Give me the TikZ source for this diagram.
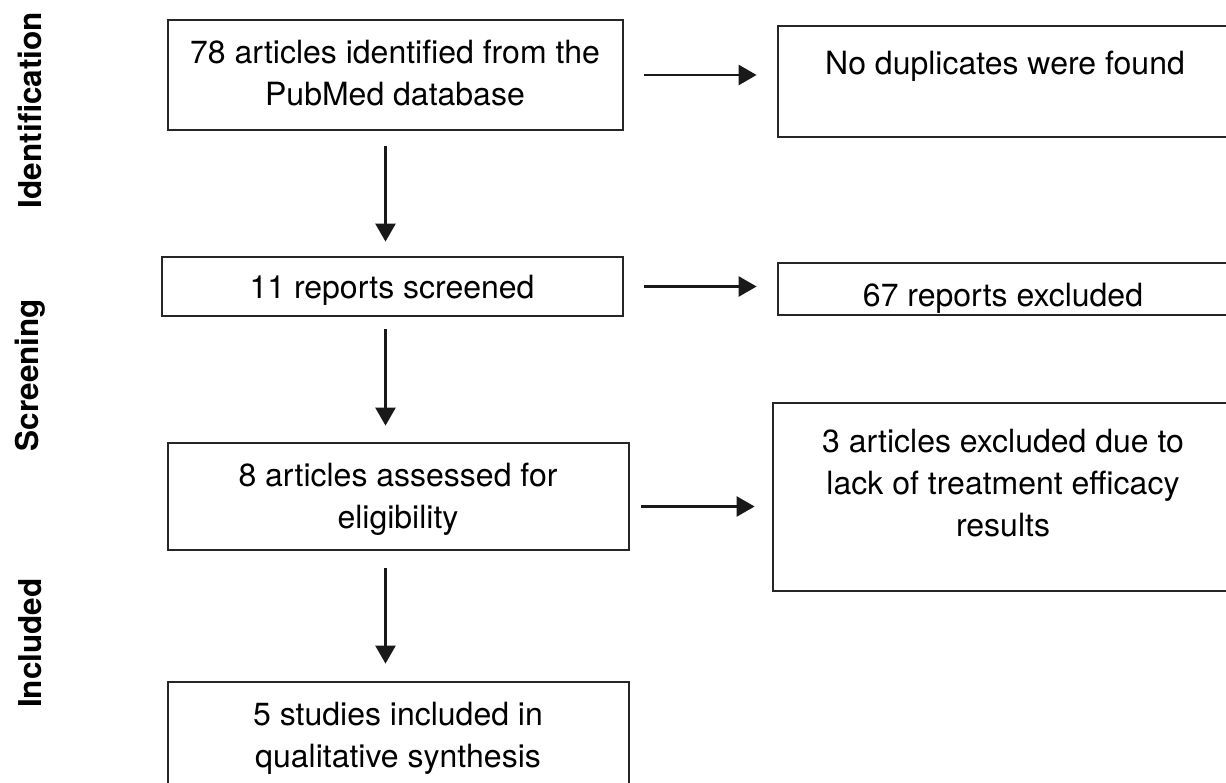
\documentclass[tikz,border=0pt]{standalone}
\usepackage{fontspec}
\setmainfont{TeX Gyre Heros}
\usetikzlibrary{arrows.meta}
\begin{document}
\begin{tikzpicture}[x=1pt,y=-1pt,
  box/.style={draw=black!85, line width=2.8pt, inner sep=0pt, rectangle},
  txt/.style={align=center, inner sep=0pt, font=\fontsize{32}{42}\selectfont},
  side/.style={rotate=90, inner sep=0pt, font=\bfseries\fontsize{31.5}{36}\selectfont},
  arr/.style={line width=2.6pt, draw=black!90, -{Triangle[length=18pt,width=20pt]}}]
\useasboundingbox (0,0) rectangle (1226,783);
\clip (0,0) rectangle (1226,783);
% boxes
\node[box, minimum width=455pt, minimum height=110pt] (A) at (395.5,75) {};
\node[box, minimum width=470pt, minimum height=111pt] (B) at (1013,81.5) {};
\node[box, minimum width=461pt, minimum height=59pt] (C) at (392.5,286.5) {};
\node[box, minimum width=470pt, minimum height=52pt] (D) at (1013,289) {};
\node[box, minimum width=461pt, minimum height=107pt] (E) at (398.5,496.5) {};
\node[box, minimum width=475pt, minimum height=188pt] (F) at (1010.5,497) {};
\node[box, minimum width=461pt, minimum height=140pt] (G) at (398.5,752) {};
% texts
\node[txt] (tA) at (395,73) {78 articles identified from the\\PubMed database};
\node[txt] (tB) at (1005,66) {No duplicates were found};
\node[txt] (tC) at (392,290) {11 reports screened};
\begin{scope}
\clip (D.north west) rectangle (D.south east);
\node[txt] (tD) at (1003,298) {67 reports excluded};
\end{scope}
\node[txt] (tE) at (398,499) {8 articles assessed for\\eligibility};
\node[txt] (tF) at (1003,483) {3 articles excluded due to\\lack of treatment efficacy\\results};
\node[txt] (tG) at (398,738) {5 studies included in\\qualitative synthesis};
% side labels
\node[side] (s1) at (30,110) {Identification};
\node[side] (s2) at (30,375) {Screening};
\node[side] (s3) at (30,643) {Included};
% arrows
\draw[arr, shorten <=20pt, shorten >=20pt] (A.east) -- (A.east -| B.west);
\draw[arr, shorten <=20pt, shorten >=20pt] (C.east) -- (C.east -| D.west);
\draw[arr, shorten <=11pt, shorten >=17pt] ([yshift=-10pt]E.east) -- ([yshift=-10pt]E.east -| F.west);
\draw[arr, shorten <=15pt, shorten >=14pt] ([xshift=-10pt]A.south) -- ([xshift=-10pt]A.south |- C.north);
\draw[arr, shorten <=12pt, shorten >=16pt] ([xshift=-7pt]C.south) -- ([xshift=-7pt]C.south |- E.north);
\draw[arr, shorten <=17pt, shorten >=17pt] ([xshift=-13pt]E.south) -- ([xshift=-13pt]E.south |- G.north);
\end{tikzpicture}
\end{document}
